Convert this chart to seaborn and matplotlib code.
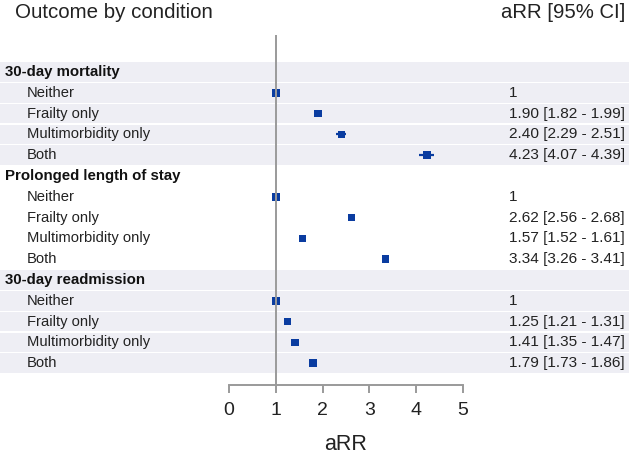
import numpy as np
import pandas as pd
import matplotlib
matplotlib.use("Agg")
import matplotlib.pyplot as plt
import seaborn as sns

# Data
outcomes = ["30-day mortality", "Prolonged length of stay", "30-day readmission"]
conditions = ["Neither", "Frailty only", "Multimorbidity only", "Both"]
arr_est = [[1.00, 1.90, 2.40, 4.23],
           [1.00, 2.62, 1.57, 3.34],
           [1.00, 1.25, 1.41, 1.79]]
arr_lo = [[1.00, 1.82, 2.29, 4.07],
          [1.00, 2.56, 1.52, 3.26],
          [1.00, 1.21, 1.35, 1.73]]
arr_hi = [[1.00, 1.99, 2.51, 4.39],
          [1.00, 2.68, 1.61, 3.41],
          [1.00, 1.31, 1.47, 1.86]]
shaded = [True, False, True]
x_ticks = [0, 1, 2, 3, 4, 5]

# Build a long table with row positions
rows = []
r = 0
for g, outc in enumerate(outcomes):
    rows.append(dict(row=r, label=outc, header=True, group=g, est=np.nan, lo=np.nan, hi=np.nan))
    r += 1
    for c, cond in enumerate(conditions):
        rows.append(dict(row=r, label=cond, header=False, group=g,
                         est=arr_est[g][c], lo=arr_lo[g][c], hi=arr_hi[g][c]))
        r += 1
df = pd.DataFrame(rows)

sns.set_theme(style="white")
plt.rcParams["font.family"] = ["Liberation Sans", "DejaVu Sans"]

W, H = 629, 454
fig = plt.figure(figsize=(W / 100, H / 100), dpi=100)
ax = fig.add_axes([0, 0, 1, 1])

# pixel mapping: x=0 -> 229px, 1 unit = 46.8px ; row 0 centre at 72px, row height 20.8px
x0, xs = 229.0, 46.8
y0, ys = 72.0, 20.8
ax.set_xlim((0 - x0) / xs, (W - x0) / xs)
ax.set_ylim((H - y0) / ys, (0 - y0) / ys)

stripe = "#eeeef4"
for _, rr in df.iterrows():
    if shaded[rr["group"]]:
        ax.axhspan(rr["row"] - 0.5 + 0.03, rr["row"] + 0.5 - 0.03, color=stripe, lw=0, zorder=0)

# CI lines
pts = df[~df["header"]]
ci = pts[pts["hi"] > pts["lo"]]
ax.hlines(ci["row"], ci["lo"], ci["hi"], color="#0a3ca0", lw=1.6, zorder=2)
sns.scatterplot(data=pts, x="est", y="row", marker="s", s=30, color="#0a3ca0",
                edgecolor="none", ax=ax, zorder=3, legend=False)

# reference line at 1
axis_y = (385 - y0) / ys
ax.vlines(1, (35 - y0) / ys, axis_y, color="#9a9a9a", lw=1.4, zorder=4)

# x axis
for s in ["top", "left", "right"]:
    ax.spines[s].set_visible(False)
ax.spines["bottom"].set_position(("data", axis_y))
ax.spines["bottom"].set_bounds(0, 5)
ax.spines["bottom"].set_color("#9a9a9a")
ax.spines["bottom"].set_linewidth(1.4)
ax.set_xticks(x_ticks)
ax.set_xticklabels([str(t) for t in x_ticks])
ax.tick_params(axis="x", bottom=True, direction="out", length=6, width=1.4,
               color="#9a9a9a", labelsize=14, labelcolor="#222222", pad=6)
ax.set_yticks([])
ax.set_xlabel("")
ax.set_ylabel("")
ax.text(2.5, (444 - y0) / ys, "aRR", ha="center", va="center", fontsize=15.5, color="#222222")

# text columns
for _, rr in df.iterrows():
    if rr["header"]:
        ax.text((5 - x0) / xs, rr["row"], rr["label"], ha="left", va="center",
                fontsize=10.8, fontweight="bold", color="#111111")
    else:
        ax.text((27 - x0) / xs, rr["row"], rr["label"], ha="left", va="center",
                fontsize=10.6, color="#222222")
        if rr["hi"] > rr["lo"]:
            txt = f"{rr['est']:.2f} [{rr['lo']:.2f} - {rr['hi']:.2f}]"
        else:
            txt = f"{rr['est']:g}"
        ax.text((509 - x0) / xs, rr["row"], txt, ha="left", va="center",
                fontsize=11.1, color="#222222")

ax.text((15 - x0) / xs, (13 - y0) / ys, "Outcome by condition", ha="left", va="center",
        fontsize=14.8, color="#222222")
ax.text((625 - x0) / xs, (13 - y0) / ys, "aRR [95% CI]", ha="right", va="center",
        fontsize=14.6, color="#222222")

fig.savefig("out.png", dpi=100)
